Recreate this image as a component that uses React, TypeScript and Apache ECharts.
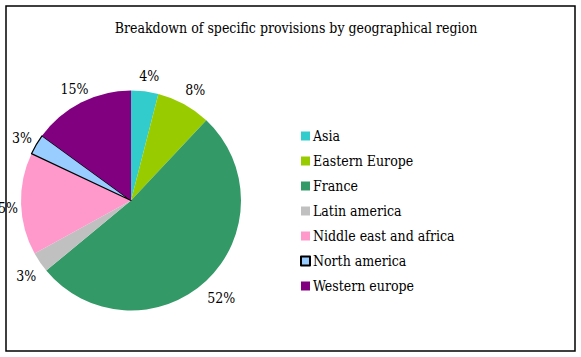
import React, { useEffect, useRef } from "react";
import * as echarts from "echarts";

const categories = [
  "Asia",
  "Eastern Europe",
  "France",
  "Latin america",
  "Niddle east and africa",
  "North america",
  "Western europe",
];
const values = [4, 8, 52, 3, 15, 3, 15];
const colors = ["#33CCCC", "#99CC00", "#339966", "#C0C0C0", "#FF99CC", "#99CCFF", "#800080"];
const title = "Breakdown of specific provisions by geographical region";

const FONT = "DejaVu Serif Condensed";

export default function App() {
  const ref = useRef<HTMLDivElement>(null);
  useEffect(() => {
    if (!ref.current) return;
    const chart = echarts.init(ref.current, null, { renderer: "svg" });
    const pieData = categories.map((name, i) => ({
      name,
      value: values[i],
      itemStyle: {
        color: colors[i],
        borderColor: name === "North america" ? "#000" : colors[i],
        borderWidth: name === "North america" ? 1.2 : 0,
      },
    }));
    const labelData = categories.map((name, i) => ({
      name: name + "_lbl",
      value: values[i],
    }));
    chart.setOption({
      animation: false,
      backgroundColor: "#fff",
      title: {
        text: title,
        left: 291,
        top: 16,
        textAlign: "center",
        textStyle: { fontFamily: FONT, fontSize: 14, fontWeight: "normal", color: "#000" },
      },
      legend: {
        data: categories,
        orient: "vertical",
        left: 295,
        top: 124,
        itemWidth: 9,
        itemHeight: 9,
        itemGap: 11,
        icon: "rect",
        selectedMode: false,
        textStyle: { fontFamily: FONT, fontSize: 14, color: "#000", padding: [0, 0, 0, -2] },
      },
      graphic: [
        {
          type: "rect",
          shape: { x: 6, y: 6, width: 569, height: 345 },
          style: { fill: "none", stroke: "#000", lineWidth: 1.5 },
          silent: true,
        },
      ],
      series: [
        {
          type: "pie",
          center: [131, 200.5],
          radius: 110,
          startAngle: 90,
          clockwise: true,
          label: { show: false },
          labelLine: { show: false },
          data: pieData,
          emphasis: { disabled: true },
        },
        {
          type: "pie",
          center: [133, 203.5],
          radius: [110, 142],
          startAngle: 90,
          clockwise: true,
          silent: true,
          itemStyle: { color: "rgba(0,0,0,0)" },
          label: {
            show: true,
            position: "inside",
            formatter: "{d}%",
            fontFamily: FONT,
            fontSize: 14,
            color: "#000",
          },
          labelLine: { show: false },
          data: labelData,
          emphasis: { disabled: true },
        },
      ],
    });
    return () => chart.dispose();
  }, []);
  return (
    <div
      ref={ref}
      style={{ position: "absolute", left: 0, top: 0, width: 581, height: 357 }}
    />
  );
}
